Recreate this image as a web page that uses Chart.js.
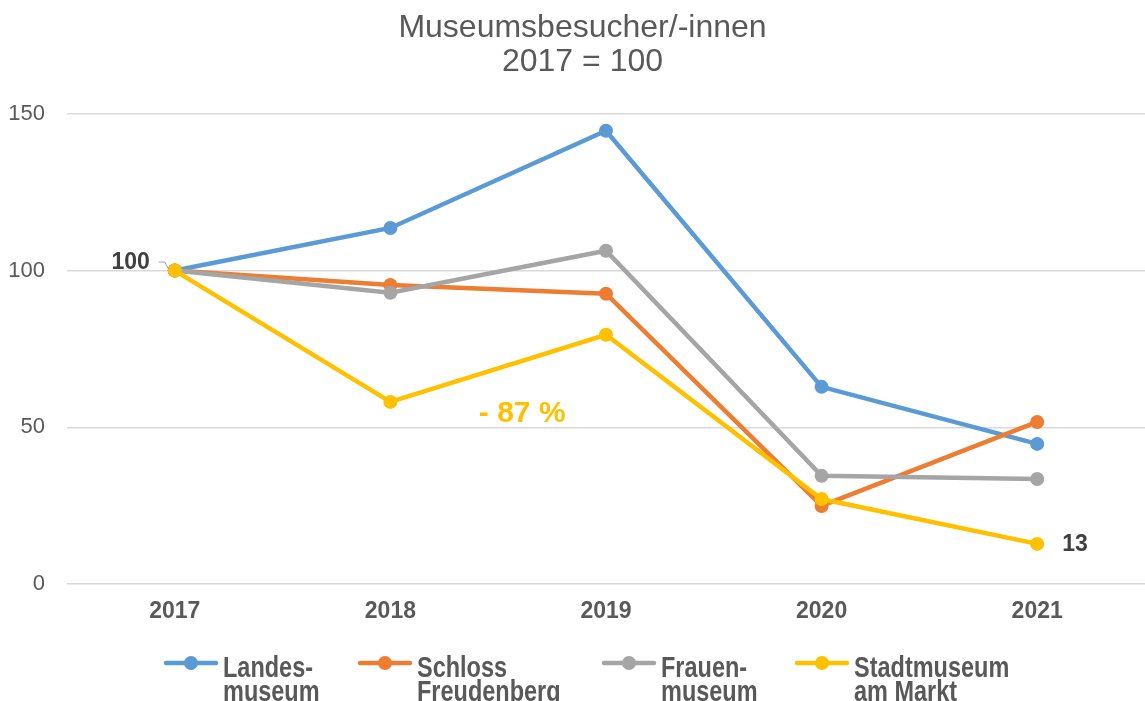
<!DOCTYPE html>
<html>
<head>
<meta charset="utf-8">
<script src="https://cdn.jsdelivr.net/npm/chart.js@4/dist/chart.umd.min.js"></script>
<style>
  html, body { margin: 0; padding: 0; background: #fff; }
  #wrap { width: 1145px; height: 701px; }
</style>
</head>
<body>
<div id="wrap"><canvas id="museumChart" width="1145" height="701"></canvas></div>
<script>
// Data
const years = ['2017', '2018', '2019', '2020', '2021'];
const landesmuseum = [100, 113.6, 144.6, 62.9, 44.7];
const schlossFreudenberg = [100, 95.4, 92.6, 24.9, 51.7];
const frauenmuseum = [100, 92.9, 106.3, 34.5, 33.5];
const stadtmuseum = [100, 58.1, 79.5, 27.1, 12.8];
const yTicks = [0, 50, 100, 150];

const seriesNames = [
    ['Landes-', 'museum'],
    ['Schloss', 'Freudenberg'],
    ['Frauen-', 'museum'],
    ['Stadtmuseum', 'am Markt']
];
const seriesColors = ['#5B9BD5', '#ED7D31', '#A5A5A5', '#FFC000'];

const FONT = "'Liberation Sans', Arial, sans-serif";
const TEXT_GREY = '#595959';

function makeSet(i, values, order) {
    return {
        label: seriesNames[i].join(' '),
        data: values,
        borderColor: seriesColors[i],
        backgroundColor: seriesColors[i],
        borderWidth: 4.5,
        pointRadius: 7,
        pointHoverRadius: 7,
        pointBorderWidth: 0,
        tension: 0,
        order: order
    };
}

// Annotations: data labels, the "- 87 %" remark and a two-line legend
const extrasPlugin = {
    id: 'extras',
    afterLayout(chart) {
        // title sits a little right of the canvas centre in the original
        if (chart.titleBlock) chart.titleBlock.left = 20;
    },
    afterDraw(chart) {
        const ctx = chart.ctx;
        const xs = chart.scales.x;
        const ys = chart.scales.y;
        ctx.save();

        // "100" label on 2017 with small leader line
        const x0 = xs.getPixelForValue(0);
        const y100 = ys.getPixelForValue(100);
        ctx.font = 'bold 23px ' + FONT;
        ctx.fillStyle = '#404040';
        ctx.textAlign = 'right';
        ctx.textBaseline = 'middle';
        ctx.fillText('100', x0 - 25, y100 - 8);
        ctx.strokeStyle = '#A5A5A5';
        ctx.lineWidth = 1;
        ctx.beginPath();
        ctx.moveTo(x0 - 16, y100 - 8.5);
        ctx.lineTo(x0 - 10, y100 - 8.5);
        ctx.lineTo(x0 - 6, y100 - 1);
        ctx.stroke();

        // "13" label on Stadtmuseum 2021
        const x4 = xs.getPixelForValue(4);
        ctx.textAlign = 'left';
        ctx.fillText(String(Math.round(stadtmuseum[4])), x4 + 25, ys.getPixelForValue(stadtmuseum[4]) + 1);

        // "- 87 %" remark
        ctx.font = 'bold 30px ' + FONT;
        ctx.fillStyle = '#FFC000';
        ctx.textAlign = 'center';
        const xMid = (xs.getPixelForValue(1) + xs.getPixelForValue(2)) / 2 + 24;
        ctx.fillText('- 87 %', xMid, ys.getPixelForValue(54.3));

        // Legend (text squeezed horizontally like a narrow face)
        const legendX = [164, 358, 602, 795];
        const legendY = 663;
        const squeeze = 0.81;
        ctx.font = 'bold 29px ' + FONT;
        ctx.textAlign = 'left';
        ctx.textBaseline = 'alphabetic';
        seriesNames.forEach((lines, i) => {
            const lx = legendX[i];
            ctx.strokeStyle = seriesColors[i];
            ctx.fillStyle = seriesColors[i];
            ctx.lineWidth = 4.5;
            ctx.lineCap = 'round';
            ctx.beginPath();
            ctx.moveTo(lx + 2, legendY);
            ctx.lineTo(lx + 52, legendY);
            ctx.stroke();
            ctx.beginPath();
            ctx.arc(lx + 27, legendY, 7, 0, Math.PI * 2);
            ctx.fill();
            ctx.fillStyle = TEXT_GREY;
            ctx.save();
            ctx.translate(lx + 59, 0);
            ctx.scale(squeeze, 1);
            ctx.fillText(lines[0], 0, legendY + 14);
            ctx.fillText(lines[1], 0, legendY + 38);
            ctx.restore();
        });
        ctx.restore();
    }
};

const chart = new Chart(document.getElementById('museumChart').getContext('2d'), {
    type: 'line',
    data: {
        labels: years,
        datasets: [
            makeSet(0, landesmuseum, 3),
            makeSet(1, schlossFreudenberg, 2),
            makeSet(2, frauenmuseum, 1),
            makeSet(3, stadtmuseum, 0)
        ]
    },
    options: {
        responsive: false,
        animation: false,
        layout: { autoPadding: false, padding: 0 },
        plugins: {
            legend: { display: false },
            tooltip: { enabled: false },
            title: {
                display: true,
                text: ['Museumsbesucher/-innen', '2017 = 100'],
                color: TEXT_GREY,
                font: { family: FONT, size: 32, weight: 'normal', lineHeight: 1.06 },
                padding: { top: 11, bottom: 35 }
            }
        },
        scales: {
            x: {
                offset: true,
                grid: { display: false, drawTicks: false },
                border: { display: false },
                ticks: {
                    color: TEXT_GREY,
                    padding: 14,
                    font: { family: FONT, size: 23, weight: 'bold' }
                },
                afterFit(scale) {
                    scale.height = 117;
                    scale.paddingLeft = 0;
                    scale.paddingRight = 0;
                }
            },
            y: {
                min: 0,
                max: 150,
                afterBuildTicks(scale) { scale.ticks = yTicks.map(v => ({ value: v })); },
                grid: { color: '#D9D9D9', lineWidth: 1.5, drawTicks: false },
                border: { display: false },
                ticks: {
                    color: TEXT_GREY,
                    padding: 22,
                    font: { family: FONT, size: 22 }
                },
                afterFit(scale) { scale.width = 67; }
            }
        }
    },
    plugins: [extrasPlugin]
});
</script>
</body>
</html>
